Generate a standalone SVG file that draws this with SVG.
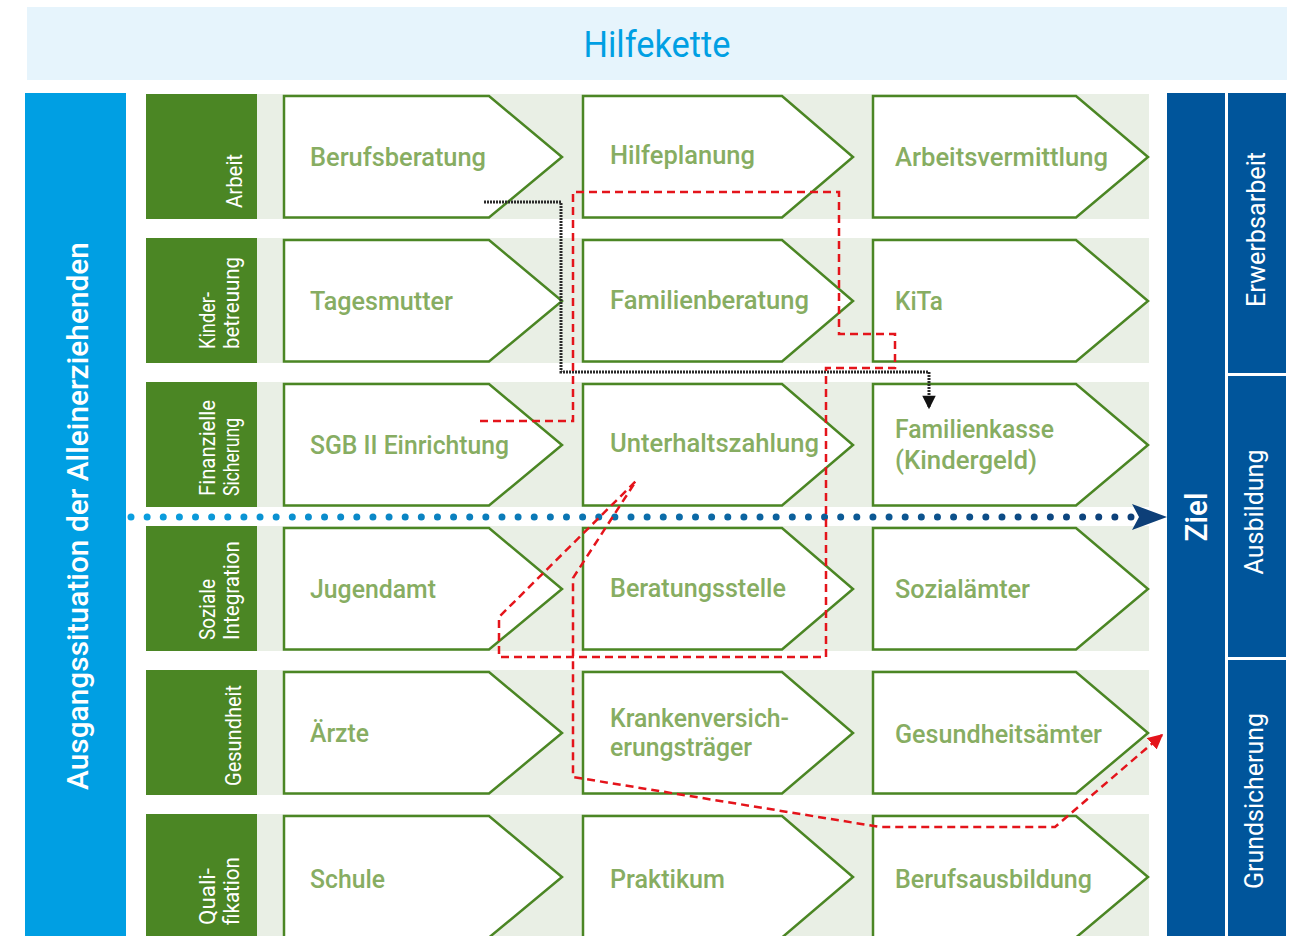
<svg xmlns="http://www.w3.org/2000/svg" width="1299" height="936" viewBox="0 0 1299 936">
<style>
.band{fill:#E9EFE5}
.cat{fill:#4B8624}
.box{fill:#ffffff;stroke:#4B8624;stroke-width:2.5;stroke-linejoin:miter}
.lbl{font-family:Roboto,"Liberation Sans",sans-serif;font-size:26px;font-weight:500;fill:#87AD62}
.cattxt{font-family:Roboto,"Liberation Sans",sans-serif;font-size:22px;fill:#ffffff}
.wtxt{font-family:Roboto,"Liberation Sans",sans-serif;fill:#ffffff}
.red{fill:none;stroke:#E4141B;stroke-width:2.5;stroke-dasharray:8 5}
.blk{fill:none;stroke:#2a2a2a;stroke-width:3;stroke-dasharray:2 1}
</style>
<defs>
<linearGradient id="dotg" gradientUnits="userSpaceOnUse" x1="130" y1="0" x2="1135" y2="0">
<stop offset="0" stop-color="#0A9FE0"/>
<stop offset="1" stop-color="#0D3F78"/>
</linearGradient>
<marker id="redArr" viewBox="0 0 10 10" refX="9" refY="5" markerWidth="6" markerHeight="6" markerUnits="strokeWidth" orient="auto">
<path d="M0,0 L10,5 L0,10 z" fill="#E4141B"/>
</marker>
<marker id="blkArr" viewBox="0 0 10 10" refX="9" refY="5" markerWidth="5.5" markerHeight="4.5" markerUnits="strokeWidth" orient="auto">
<path d="M0,0 L10,5 L0,10 z" fill="#111111"/>
</marker>
</defs>

<rect width="1299" height="936" fill="#ffffff"/>

<g id="header">
<rect x="27" y="7" width="1260" height="73" fill="#E6F4FC"/>
<text x="657" y="57" text-anchor="middle" font-family="Roboto,'Liberation Sans',sans-serif" font-size="36" fill="#009FE3" textLength="147" lengthAdjust="spacingAndGlyphs">Hilfekette</text>
</g>

<g id="start">
<rect x="25" y="93" width="101" height="843" fill="#009FE3"/>
<text class="wtxt" transform="translate(88,516) rotate(-90)" text-anchor="middle" font-size="30" font-weight="500" textLength="548" lengthAdjust="spacingAndGlyphs">Ausgangssituation der Alleinerziehenden</text>
</g>

<g id="goal">
<rect x="1167" y="93" width="58" height="843" fill="#00559B"/>
<text class="wtxt" transform="translate(1207,517) rotate(-90)" text-anchor="middle" font-size="31" font-weight="500" textLength="49" lengthAdjust="spacingAndGlyphs">Ziel</text>
</g>
<g id="goal-erwerbsarbeit">
<rect x="1228" y="93" width="58" height="280" fill="#00559B"/>
<text class="wtxt" transform="translate(1265,229.5) rotate(-90)" text-anchor="middle" font-size="25" textLength="155" lengthAdjust="spacingAndGlyphs">Erwerbsarbeit</text>
</g>
<g id="goal-ausbildung">
<rect x="1228" y="376" width="58" height="281" fill="#00559B"/>
<text class="wtxt" transform="translate(1263,512) rotate(-90)" text-anchor="middle" font-size="25" textLength="125" lengthAdjust="spacingAndGlyphs">Ausbildung</text>
</g>
<g id="goal-grundsicherung">
<rect x="1228" y="660" width="58" height="276" fill="#00559B"/>
<text class="wtxt" transform="translate(1263,801) rotate(-90)" text-anchor="middle" font-size="25" textLength="176" lengthAdjust="spacingAndGlyphs">Grundsicherung</text>
</g>

<g id="row-arbeit">
<rect class="band" x="257" y="94" width="892" height="125"/>
<rect class="cat" x="146" y="94" width="111" height="125"/>
<text class="cattxt" transform="translate(242,208) rotate(-90)" textLength="54" lengthAdjust="spacingAndGlyphs">Arbeit</text>
</g>
<g id="row-kinderbetreuung">
<rect class="band" x="257" y="238" width="892" height="125"/>
<rect class="cat" x="146" y="238" width="111" height="125"/>
<text class="cattxt" transform="translate(215,349) rotate(-90)" textLength="57" lengthAdjust="spacingAndGlyphs">Kinder-</text>
<text class="cattxt" transform="translate(239,349) rotate(-90)" textLength="92" lengthAdjust="spacingAndGlyphs">betreuung</text>
</g>
<g id="row-finanzielle">
<rect class="band" x="257" y="382" width="892" height="125"/>
<rect class="cat" x="146" y="382" width="111" height="125"/>
<text class="cattxt" transform="translate(215,496) rotate(-90)" textLength="96" lengthAdjust="spacingAndGlyphs">Finanzielle</text>
<text class="cattxt" transform="translate(239,496) rotate(-90)" textLength="78" lengthAdjust="spacingAndGlyphs">Sicherung</text>
</g>
<g id="row-soziale">
<rect class="band" x="257" y="526" width="892" height="125"/>
<rect class="cat" x="146" y="526" width="111" height="125"/>
<text class="cattxt" transform="translate(215,640) rotate(-90)" textLength="61" lengthAdjust="spacingAndGlyphs">Soziale</text>
<text class="cattxt" transform="translate(239,640) rotate(-90)" textLength="99" lengthAdjust="spacingAndGlyphs">Integration</text>
</g>
<g id="row-gesundheit">
<rect class="band" x="257" y="670" width="892" height="125"/>
<rect class="cat" x="146" y="670" width="111" height="125"/>
<text class="cattxt" transform="translate(241,786) rotate(-90)" textLength="101" lengthAdjust="spacingAndGlyphs">Gesundheit</text>
</g>
<g id="row-qualifikation">
<rect class="band" x="257" y="814" width="892" height="130"/>
<rect class="cat" x="146" y="814" width="111" height="130"/>
<text class="cattxt" transform="translate(215,925) rotate(-90)" textLength="57" lengthAdjust="spacingAndGlyphs">Quali-</text>
<text class="cattxt" transform="translate(239,925) rotate(-90)" textLength="68" lengthAdjust="spacingAndGlyphs">fikation</text>
</g>

<!-- Row 1 -->
<g id="n-berufsberatung"><path class="box" d="M284,96 H489 L562,157 L489,217.5 H284 Z"/><text class="lbl" x="310" y="166" textLength="176" lengthAdjust="spacingAndGlyphs">Berufsberatung</text></g>
<g id="n-hilfeplanung"><path class="box" d="M583,96 H782 L853,157 L782,217.5 H583 Z"/><text class="lbl" x="610" y="164" textLength="145" lengthAdjust="spacingAndGlyphs">Hilfeplanung</text></g>
<g id="n-arbeitsvermittlung"><path class="box" d="M873,96 H1076 L1148,157 L1076,217.5 H873 Z"/><text class="lbl" x="895" y="166" textLength="213" lengthAdjust="spacingAndGlyphs">Arbeitsvermittlung</text></g>
<!-- Row 2 -->
<g id="n-tagesmutter"><path class="box" d="M284,240 H489 L562,301 L489,361.5 H284 Z"/><text class="lbl" x="310" y="310" textLength="143" lengthAdjust="spacingAndGlyphs">Tagesmutter</text></g>
<g id="n-familienberatung"><path class="box" d="M583,240 H782 L853,301 L782,361.5 H583 Z"/><text class="lbl" x="610" y="309" textLength="199" lengthAdjust="spacingAndGlyphs">Familienberatung</text></g>
<g id="n-kita"><path class="box" d="M873,240 H1076 L1148,301 L1076,361.5 H873 Z"/><text class="lbl" x="895" y="310" textLength="48" lengthAdjust="spacingAndGlyphs">KiTa</text></g>
<!-- Row 3 -->
<g id="n-sgb"><path class="box" d="M284,384 H489 L562,445 L489,505.5 H284 Z"/><text class="lbl" x="310" y="454" textLength="199" lengthAdjust="spacingAndGlyphs">SGB II Einrichtung</text></g>
<g id="n-unterhalt"><path class="box" d="M583,384 H782 L853,445 L782,505.5 H583 Z"/><text class="lbl" x="610" y="452" textLength="209" lengthAdjust="spacingAndGlyphs">Unterhaltszahlung</text></g>
<g id="n-familienkasse"><path class="box" d="M873,384 H1076 L1148,445 L1076,505.5 H873 Z"/><text class="lbl" x="895" y="438" textLength="159" lengthAdjust="spacingAndGlyphs">Familienkasse</text><text class="lbl" x="895" y="469" textLength="142" lengthAdjust="spacingAndGlyphs">(Kindergeld)</text></g>
<!-- Row 4 -->
<g id="n-jugendamt"><path class="box" d="M284,528 H489 L562,589 L489,649.5 H284 Z"/><text class="lbl" x="310" y="598" textLength="126" lengthAdjust="spacingAndGlyphs">Jugendamt</text></g>
<g id="n-beratungsstelle"><path class="box" d="M583,528 H782 L853,589 L782,649.5 H583 Z"/><text class="lbl" x="610" y="597" textLength="176" lengthAdjust="spacingAndGlyphs">Beratungsstelle</text></g>
<g id="n-sozialaemter"><path class="box" d="M873,528 H1076 L1148,589 L1076,649.5 H873 Z"/><text class="lbl" x="895" y="598" textLength="135" lengthAdjust="spacingAndGlyphs">Sozialämter</text></g>
<!-- Row 5 -->
<g id="n-aerzte"><path class="box" d="M284,672 H489 L562,733 L489,793.5 H284 Z"/><text class="lbl" x="310" y="742" textLength="59" lengthAdjust="spacingAndGlyphs">Ärzte</text></g>
<g id="n-krankenversicherung"><path class="box" d="M583,672 H782 L853,733 L782,793.5 H583 Z"/><text class="lbl" x="610" y="727" textLength="179" lengthAdjust="spacingAndGlyphs">Krankenversich-</text><text class="lbl" x="610" y="756" textLength="142" lengthAdjust="spacingAndGlyphs">erungsträger</text></g>
<g id="n-gesundheitsaemter"><path class="box" d="M873,672 H1076 L1148,733 L1076,793.5 H873 Z"/><text class="lbl" x="895" y="743" textLength="207" lengthAdjust="spacingAndGlyphs">Gesundheitsämter</text></g>
<!-- Row 6 -->
<g id="n-schule"><path class="box" d="M284,816 H489 L562,877 L489,937.5 H284 Z"/><text class="lbl" x="310" y="888" textLength="75" lengthAdjust="spacingAndGlyphs">Schule</text></g>
<g id="n-praktikum"><path class="box" d="M583,816 H782 L853,877 L782,937.5 H583 Z"/><text class="lbl" x="610" y="888" textLength="115" lengthAdjust="spacingAndGlyphs">Praktikum</text></g>
<g id="n-berufsausbildung"><path class="box" d="M873,816 H1076 L1148,877 L1076,937.5 H873 Z"/><text class="lbl" x="895" y="888" textLength="197" lengthAdjust="spacingAndGlyphs">Berufsausbildung</text></g>

<g id="connectors">
<line x1="131" y1="517" x2="1131" y2="517" stroke="url(#dotg)" stroke-width="7" stroke-linecap="round" stroke-dasharray="0 16.129"/>
<path d="M1167,517 L1132,504 L1139,517 L1132,530 Z" fill="#0D3F78"/>
<path class="blk" d="M484,202 H561 V372 H929 V408" marker-end="url(#blkArr)"/>
<path class="red" d="M480,421 H573 V192 H839 V334 H895 V368 H826 V657 H499 V617 L636,481 L573,578 V777 L880,827 H1055 L1162,735" marker-end="url(#redArr)"/>
</g>
</svg>
